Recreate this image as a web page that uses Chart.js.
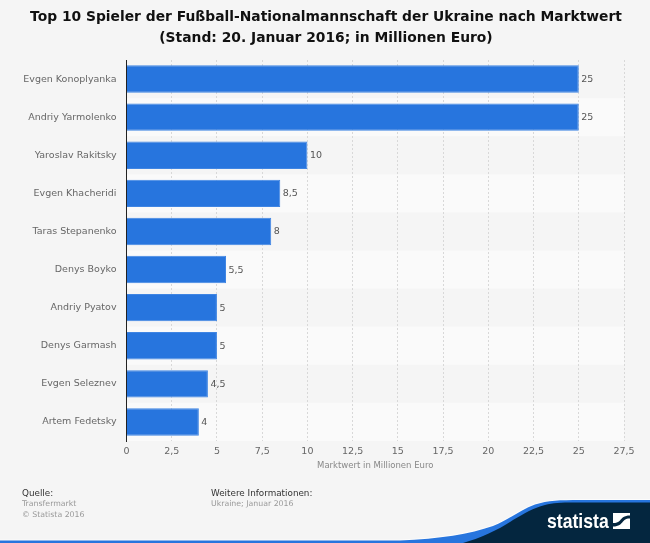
<!DOCTYPE html>
<html>
<head>
<meta charset="utf-8">
<script src="https://cdn.jsdelivr.net/npm/chart.js@4"></script>
<style>
html, body { margin: 0; padding: 0; background: #f5f5f5; }
#wrap { position: relative; width: 650px; height: 543px; overflow: hidden; font-family: "DejaVu Sans", sans-serif; }
#wrap canvas { position: absolute; left: 0; top: 0; }
#wave { position: absolute; left: 0; top: 490px; }
#title { position: absolute; left: 0; top: 6px; width: 652px; text-align: center; font-size: 13.85px; font-weight: bold; line-height: 21px; color: #111; white-space: nowrap; }
.note { position: absolute; font-size: 7.8px; line-height: 10.5px; color: #999; white-space: nowrap; }
.note b { display: block; font-weight: normal; font-size: 8.8px; line-height: 12px; color: #333; }
#brand { position: absolute; left: 547px; top: 509px; font: bold 21px "Liberation Sans", sans-serif; color: #fff; transform-origin: left top; transform: scaleX(0.84); }
</style>
</head>
<body>
<div id="wrap">
  <canvas id="chart" width="650" height="543"></canvas>
  <div id="title"></div>
  <svg id="wave" width="650" height="53" viewBox="0 490 650 53">
    <path d="M0 540.5 L400 540.5 C440 539 470 534 493 526 C510 519 520 510 535 504.5 C548 500.5 560 500 580 500 L650 500" fill="none" stroke="#ffffff" stroke-width="2" opacity="0.7"/>
    <path d="M0 540.5 L400 540.5 C440 539 470 534 493 526 C510 519 520 510 535 504.5 C548 500.5 560 500 580 500 L650 500 L650 543 L0 543 Z" fill="#2775de"/>
    <path d="M463 543 C480 538 498 530 513 520 C525 513 533 508 545 505 C553 503 560 502.5 575 502.5 L650 502.5 L650 543 Z" fill="#04263f"/>
    <path d="M613 513 H630 V515.5 C624 515.5 622 518 620 520.5 C618 522.5 616 523 613 523 Z M630 529 H613 V526.5 C619 526.5 621 524 623 521.5 C625 519 627 518.5 630 518.5 Z" fill="#fff"/>
  </svg>
  <div id="brand">statista</div>
  <div class="note" style="left:22px;top:487px"><b>Quelle:</b>Transfermarkt<br>© Statista 2016</div>
  <div class="note" style="left:211px;top:487px"><b>Weitere Informationen:</b>Ukraine; Januar 2016</div>
</div>
<script>
let players = ["Evgen Konoplyanka", "Andriy Yarmolenko", "Yaroslav Rakitsky", "Evgen Khacheridi", "Taras Stepanenko", "Denys Boyko", "Andriy Pyatov", "Denys Garmash", "Evgen Seleznev", "Artem Fedetsky"];
let marketValues = [25, 25, 10, 8.5, 8, 5.5, 5, 5, 4.5, 4];
let titleLines = ["Top 10 Spieler der Fußball-Nationalmannschaft der Ukraine nach Marktwert", "(Stand: 20. Januar 2016; in Millionen Euro)"];
let axisTitle = "Marktwert in Millionen Euro";

let commaNum = v => String(v).replace(".", ",");

document.getElementById("title").innerHTML = titleLines.join("<br>");

// alternating row bands behind the grid and bars
let rowBands = {
	id: "rowBands",
	beforeDraw(chart) {
		let area = chart.chartArea, y = chart.scales.y, ctx = chart.ctx;
		let band = (area.bottom - area.top) / players.length;
		ctx.save();
		players.forEach((p, i) => {
			if (i % 2 == 1) {
				ctx.fillStyle = "#fafafa";
				ctx.fillRect(area.left, y.getPixelForValue(i) - band / 2, area.right - area.left, band);
			}
		});
		ctx.restore();
	}
};

// value next to each bar
let barValues = {
	id: "barValues",
	afterDatasetsDraw(chart) {
		let ctx = chart.ctx;
		ctx.save();
		ctx.font = "9.5px 'DejaVu Sans'";
		ctx.fillStyle = "#555";
		ctx.textBaseline = "middle";
		chart.getDatasetMeta(0).data.forEach((bar, i) => {
			ctx.fillText(commaNum(marketValues[i]), bar.x + 2.5, bar.y + 0.5);
		});
		ctx.restore();
	}
};

new Chart(document.getElementById("chart"), {
	type: "bar",
	data: {
		labels: players,
		datasets: [{
			label: axisTitle,
			data: marketValues,
			backgroundColor: "#2775de",
			borderColor: "#3f85e3",
			borderWidth: 1,
			barPercentage: 0.72,
			categoryPercentage: 1
		}]
	},
	options: {
		indexAxis: "y",
		responsive: false,
		animation: false,
		layout: { padding: { left: 0, top: 60, right: 26, bottom: 72 } },
		plugins: {
			legend: { display: false },
			tooltip: { enabled: false }
		},
		scales: {
			x: {
				min: 0,
				max: 27.5,
				afterFit(s) { s.height = 30; },
				border: { display: false, dash: [2, 2] },
				grid: { color: "#d8d8d8", drawTicks: false, lineWidth: 1 },
				ticks: {
					stepSize: 2.5,
					maxRotation: 0,
					padding: 5,
					color: "#666",
					font: { family: "'DejaVu Sans'", size: 9.5 },
					callback: v => commaNum(v)
				},
				title: {
					display: true,
					text: axisTitle,
					color: "#888",
					font: { family: "'DejaVu Sans'", size: 8.5 },
					padding: { top: 4, bottom: 0 }
				}
			},
			y: {
				afterFit(s) { s.width = 126.5; },
				border: { color: "#222", width: 1 },
				grid: { display: false },
				ticks: {
					padding: 2,
					color: "#666",
					font: { family: "'DejaVu Sans'", size: 9.5 }
				}
			}
		}
	},
	plugins: [rowBands, barValues]
});
</script>
</body>
</html>
